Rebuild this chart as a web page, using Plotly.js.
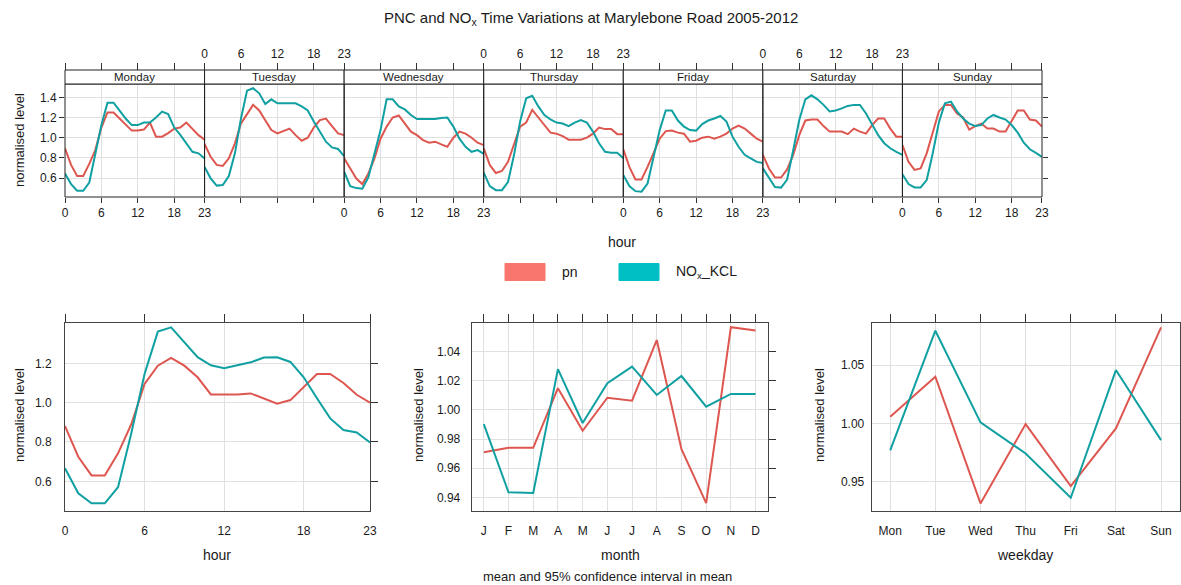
<!DOCTYPE html>
<html>
<head>
<meta charset="utf-8">
<script src="https://cdn.plot.ly/plotly-3.0.1.min.js"></script>
<style>html,body{margin:0;padding:0;background:#fff;}#chart{width:1181px;height:585px;}</style>
</head>
<body>
<div id="chart"></div>
<script>
// ---------------- DATA ----------------
const hours = [0,1,2,3,4,5,6,7,8,9,10,11,12,13,14,15,16,17,18,19,20,21,22,23];
const dayNames = ["Monday","Tuesday","Wednesday","Thursday","Friday","Saturday","Sunday"];
const seriesNames = ["pn","NO<sub>x</sub>_KCL"];

// hour-of-week panel: pn
const monPn = [0.894,0.73,0.62,0.62,0.74,0.88,1.10,1.25,1.25,1.19,1.135,1.07,1.07,1.08,1.15,1.01,1.01,1.045,1.09,1.10,1.15,1.09,1.025,0.98];
const tuePn = [0.937,0.81,0.73,0.72,0.795,0.944,1.14,1.235,1.325,1.27,1.175,1.075,1.043,1.07,1.09,1.025,0.97,1.00,1.10,1.175,1.19,1.115,1.043,1.025];
const wedPn = [0.795,0.695,0.595,0.54,0.645,0.795,0.99,1.11,1.20,1.22,1.14,1.06,1.025,0.976,0.95,0.96,0.933,0.91,1.00,1.06,1.04,1.00,0.95,0.926];
const thuPn = [0.894,0.73,0.65,0.67,0.76,0.925,1.11,1.15,1.275,1.20,1.125,1.05,1.04,1.015,0.98,0.98,0.98,1.00,1.04,1.10,1.085,1.085,1.035,1.035];
const friPn = [0.884,0.71,0.585,0.585,0.71,0.86,0.99,1.065,1.07,1.05,1.04,0.96,0.97,1.00,1.01,0.99,1.01,1.04,1.09,1.12,1.09,1.04,0.99,0.96];
const satPn = [0.83,0.695,0.605,0.605,0.685,0.83,1.025,1.17,1.18,1.18,1.115,1.06,1.06,1.06,1.035,1.09,1.06,1.04,1.125,1.19,1.19,1.09,1.01,1.01];
const sunPn = [0.927,0.76,0.68,0.695,0.845,1.04,1.26,1.325,1.325,1.24,1.20,1.08,1.115,1.14,1.09,1.09,1.06,1.06,1.16,1.27,1.27,1.18,1.17,1.11];

// hour-of-week panel: NOx_KCL
const monNox = [0.646,0.54,0.474,0.474,0.555,0.83,1.125,1.347,1.347,1.268,1.19,1.125,1.125,1.15,1.15,1.20,1.258,1.235,1.10,1.027,0.944,0.86,0.845,0.795];
const tueNox = [0.71,0.597,0.525,0.53,0.62,0.845,1.19,1.466,1.49,1.44,1.334,1.38,1.34,1.34,1.34,1.34,1.31,1.27,1.16,1.06,0.96,0.904,0.888,0.818];
const wedNox = [0.663,0.52,0.50,0.495,0.61,0.83,1.075,1.38,1.38,1.31,1.28,1.225,1.185,1.185,1.185,1.185,1.195,1.20,1.11,0.99,0.91,0.86,0.877,0.84];
const thuNox = [0.653,0.52,0.48,0.48,0.56,0.83,1.16,1.39,1.415,1.31,1.225,1.18,1.15,1.14,1.115,1.15,1.175,1.15,1.06,0.945,0.86,0.85,0.85,0.795];
const friNox = [0.63,0.52,0.47,0.465,0.545,0.795,1.075,1.27,1.27,1.17,1.11,1.075,1.07,1.135,1.17,1.19,1.215,1.16,1.01,0.91,0.83,0.795,0.76,0.75];
const satNox = [0.696,0.605,0.51,0.505,0.585,0.875,1.175,1.38,1.42,1.38,1.325,1.26,1.27,1.29,1.315,1.325,1.325,1.24,1.125,1.025,0.945,0.895,0.86,0.83];
const sunNox = [0.636,0.54,0.507,0.507,0.58,0.845,1.15,1.34,1.357,1.26,1.19,1.14,1.115,1.125,1.19,1.225,1.20,1.18,1.125,1.05,0.95,0.885,0.85,0.81];

// hour panel
const hourPn  = [0.881,0.725,0.63,0.63,0.742,0.89,1.095,1.188,1.228,1.188,1.129,1.042,1.042,1.042,1.047,1.022,0.995,1.013,1.078,1.146,1.146,1.10,1.04,1.0];
const hourNox = [0.666,0.539,0.488,0.488,0.57,0.844,1.146,1.361,1.383,1.305,1.231,1.19,1.175,1.19,1.205,1.229,1.231,1.207,1.129,1.022,0.92,0.861,0.848,0.798];

// month panel
const months = ["J","F","M","A","M","J","J","A","S","O","N","D"];
const monthPn  = [0.971,0.974,0.974,1.0149,0.9857,1.0084,1.0064,1.048,0.973,0.936,1.0568,1.0545];
const monthNox = [0.9903,0.9434,0.943,1.028,0.991,1.0183,1.0297,1.0103,1.0233,1.0022,1.011,1.011];

// weekday panel
const weekdays = ["Mon","Tue","Wed","Thu","Fri","Sat","Sun"];
const wdayPn  = [1.0057,1.040,0.9315,0.9994,0.9463,0.9957,1.0823];
const wdayNox = [0.977,1.0794,1.0009,0.9743,0.9363,1.0457,0.9857];

// ---------------- STYLE / LAYOUT ----------------
const W = 1181, H = 585;
const X = p => p / W;
const Y = p => 1 - p / H;
const lineCols = ["#DD5750", "#11A0A2"];
const keyCols = ["#F8766D", "#00BFC4"];
const FONT = "Liberation Sans, Arial, sans-serif";
const txt = "#1a1a1a";
const gridCol = "#e0e0e0";
const boxCol = "#444";

const pnDays = [monPn, tuePn, wedPn, thuPn, friPn, satPn, sunPn];
const noxDays = [monNox, tueNox, wedNox, thuNox, friNox, satNox, sunNox];

const edges = [];
for (let i = 0; i <= 7; i++) edges.push(65 + i * (1042 - 65) / 7);

const traces = [];
const layout = {
  width: W, height: H,
  margin: {l: 0, r: 0, t: 0, b: 0},
  paper_bgcolor: "#fff", plot_bgcolor: "#fff",
  showlegend: false,
  font: {family: FONT, color: txt, size: 12},
  shapes: [], annotations: []
};

const topY = [Y(197), Y(84)];
const topRange = [0.412, 1.532];
const topTicks = [0.6, 0.8, 1.0, 1.2, 1.4];

for (let i = 0; i < 7; i++) {
  const xn = i === 0 ? "x" : "x" + (i + 1);
  const xk = i === 0 ? "xaxis" : "xaxis" + (i + 1);
  layout[xk] = {
    domain: [X(edges[i]), X(edges[i + 1])], range: [0, 23], anchor: "y",
    tickvals: [0, 6, 12, 18, 23], ticks: "outside", ticklen: 5, tickcolor: "#333",
    showticklabels: i % 2 === 0, tickfont: {size: 12, color: txt},
    showgrid: true, gridcolor: gridCol, zeroline: false, showline: false, fixedrange: true
  };
  const on = "x" + (i + 8);
  layout["xaxis" + (i + 8)] = {
    overlaying: xn, side: "top", anchor: "free", position: Y(70), range: [0, 23],
    tickvals: [0, 6, 12, 18, 23], ticks: "outside", ticklen: 7, tickcolor: "#333",
    showticklabels: i % 2 === 1, tickfont: {size: 12, color: txt},
    showgrid: false, zeroline: false, showline: false, fixedrange: true
  };
  traces.push({x: hours, y: pnDays[i], xaxis: xn, yaxis: "y", type: "scatter", mode: "lines",
    line: {color: lineCols[0], width: 2}, name: "pn", hoverinfo: "skip"});
  traces.push({x: hours, y: noxDays[i], xaxis: xn, yaxis: "y", type: "scatter", mode: "lines",
    line: {color: lineCols[1], width: 2}, name: "NOx_KCL", hoverinfo: "skip"});
  traces.push({x: [null], y: [null], xaxis: on, yaxis: "y", type: "scatter", mode: "lines",
    showlegend: false, hoverinfo: "skip"});
  // panel box and strip
  layout.shapes.push({type: "rect", xref: "paper", yref: "paper", x0: X(edges[i]), x1: X(edges[i + 1]),
    y0: Y(197), y1: Y(84), line: {color: "#222", width: 1}, layer: "above"});
  layout.shapes.push({type: "rect", xref: "paper", yref: "paper", x0: X(edges[i]), x1: X(edges[i + 1]),
    y0: Y(84), y1: Y(70), line: {color: "#222", width: 1}, fillcolor: "#fff", layer: "above"});
  layout.annotations.push({xref: "paper", yref: "paper", x: X((edges[i] + edges[i + 1]) / 2), y: Y(77.5),
    text: dayNames[i], showarrow: false, font: {size: 11.5, color: txt}, xanchor: "center", yanchor: "middle"});
}
layout.yaxis = {
  domain: topY, range: topRange, anchor: "x",
  tickvals: topTicks, ticktext: ["0.6", "0.8", "1.0", "1.2", "1.4"],
  ticks: "outside", ticklen: 5, tickcolor: "#333", tickfont: {size: 12, color: txt},
  showgrid: true, gridcolor: gridCol, zeroline: false, showline: false, fixedrange: true
};
layout.yaxis2 = {
  overlaying: "y", anchor: "x7", side: "right", range: topRange, tickvals: topTicks,
  ticks: "outside", ticklen: 5, tickcolor: "#333", showticklabels: false,
  showgrid: false, zeroline: false, showline: false, fixedrange: true
};
traces.push({x: [null], y: [null], xaxis: "x7", yaxis: "y2", type: "scatter", mode: "lines", hoverinfo: "skip"});

// ---------------- bottom row ----------------
const bot = [
  {x: hours, pn: hourPn, nox: hourNox, l: 65, r: 370, range: [0, 23], tv: [0, 6, 12, 18, 23], tt: ["0", "6", "12", "18", "23"],
   yr: [0.449, 1.405], yv: [0.6, 0.8, 1.0, 1.2], yt: ["0.6", "0.8", "1.0", "1.2"], ylen: 10, right: true, title: "hour", ytx: 19, xtitleX: 217},
  {x: months.map((m, i) => i), pn: monthPn, nox: monthNox, l: 471.7, r: 767.7, range: [-0.49, 11.49],
   tv: months.map((m, i) => i), tt: months,
   yr: [0.9306, 1.0597], yv: [0.94, 0.96, 0.98, 1.00, 1.02, 1.04], yt: ["0.94", "0.96", "0.98", "1.00", "1.02", "1.04"], ylen: 8, right: true, title: "month", ytx: 418, xtitleX: 620},
  {x: weekdays.map((d, i) => i), pn: wdayPn, nox: wdayNox, l: 871.7, r: 1180, range: [-0.41, 6.42],
   tv: weekdays.map((d, i) => i), tt: weekdays,
   yr: [0.925, 1.086], yv: [0.95, 1.00, 1.05], yt: ["0.95", "1.00", "1.05"], ylen: 4, right: false, title: "weekday", ytx: 819, xtitleX: 1025}
];
bot.forEach((b, k) => {
  const xi = 15 + k, yi = 3 + k, oxi = 18 + k, oyi = 6 + k;
  layout["xaxis" + xi] = {
    domain: [X(b.l), X(b.r)], range: b.range, anchor: "y" + yi,
    tickvals: b.tv, ticktext: b.tt, ticks: "outside", ticklen: 9, tickcolor: "rgba(0,0,0,0)",
    tickfont: {size: 12, color: txt}, showgrid: true, gridcolor: gridCol, zeroline: false,
    showline: true, mirror: true, linecolor: boxCol, linewidth: 1, fixedrange: true
  };
  layout["yaxis" + yi] = {
    domain: [Y(511), Y(323)], range: b.yr, anchor: "x" + xi,
    tickvals: b.yv, ticktext: b.yt, ticks: "outside", ticklen: b.ylen, tickcolor: "rgba(0,0,0,0)",
    tickfont: {size: 12, color: txt}, showgrid: true, gridcolor: gridCol, zeroline: false,
    showline: true, mirror: true, linecolor: boxCol, linewidth: 1, fixedrange: true
  };
  layout["xaxis" + oxi] = {
    overlaying: "x" + xi, side: "top", anchor: "y" + yi, range: b.range, tickvals: b.tv,
    ticks: "outside", ticklen: 8, tickcolor: "#333", showticklabels: false,
    showgrid: false, zeroline: false, showline: false, fixedrange: true
  };
  traces.push({x: [null], y: [null], xaxis: "x" + oxi, yaxis: "y" + yi, type: "scatter", mode: "lines", hoverinfo: "skip"});
  if (b.right) {
    layout["yaxis" + oyi] = {
      overlaying: "y" + yi, side: "right", anchor: "x" + xi, range: b.yr, tickvals: b.yv,
      ticks: "outside", ticklen: 7, tickcolor: "#333", showticklabels: false,
      showgrid: false, zeroline: false, showline: false, fixedrange: true
    };
    traces.push({x: [null], y: [null], xaxis: "x" + xi, yaxis: "y" + oyi, type: "scatter", mode: "lines", hoverinfo: "skip"});
  }
  traces.push({x: b.x, y: b.pn, xaxis: "x" + xi, yaxis: "y" + yi, type: "scatter", mode: "lines",
    line: {color: lineCols[0], width: 2}, name: "pn", hoverinfo: "skip"});
  traces.push({x: b.x, y: b.nox, xaxis: "x" + xi, yaxis: "y" + yi, type: "scatter", mode: "lines",
    line: {color: lineCols[1], width: 2}, name: "NOx_KCL", hoverinfo: "skip"});
  layout.annotations.push({xref: "paper", yref: "paper", x: X(b.xtitleX), y: Y(555), text: b.title,
    showarrow: false, font: {size: 14, color: txt}, xanchor: "center", yanchor: "middle"});
  layout.annotations.push({xref: "paper", yref: "paper", x: X(b.ytx), y: Y(415), text: "normalised level",
    textangle: -90, showarrow: false, font: {size: 13, color: txt}, xanchor: "center", yanchor: "middle"});
});

// titles & other text
layout.annotations.push({xref: "paper", yref: "paper", x: X(607), y: Y(576), text: "mean and 95% confidence interval in mean",
  showarrow: false, font: {size: 13, color: txt}, xanchor: "center", yanchor: "middle"});
layout.annotations.push({xref: "paper", yref: "paper", x: X(19), y: Y(140), text: "normalised level",
  textangle: -90, showarrow: false, font: {size: 13, color: txt}, xanchor: "center", yanchor: "middle"});
layout.annotations.push({xref: "paper", yref: "paper", x: X(622), y: Y(242), text: "hour",
  showarrow: false, font: {size: 14, color: txt}, xanchor: "center", yanchor: "middle"});
layout.annotations.push({xref: "paper", yref: "paper", x: 0.5, y: Y(18),
  text: "PNC and NO<sub>x</sub> Time Variations at Marylebone Road 2005-2012",
  showarrow: false, font: {size: 15, color: txt}, xanchor: "center", yanchor: "middle"});

// key
const keyX = [505, 619];
seriesNames.forEach((s, i) => {
  layout.shapes.push({type: "rect", xref: "paper", yref: "paper", x0: X(keyX[i]), x1: X(keyX[i] + 40),
    y0: Y(280.5), y1: Y(263.5), fillcolor: keyCols[i], line: {color: keyCols[i], width: 1}});
  layout.annotations.push({xref: "paper", yref: "paper", x: X(keyX[i] + 55), y: Y(272), text: s,
    showarrow: false, font: {size: 14, color: txt}, xanchor: "left", yanchor: "middle"});
});

Plotly.newPlot("chart", traces, layout, {staticPlot: true, displayModeBar: false});
</script>
</body>
</html>
